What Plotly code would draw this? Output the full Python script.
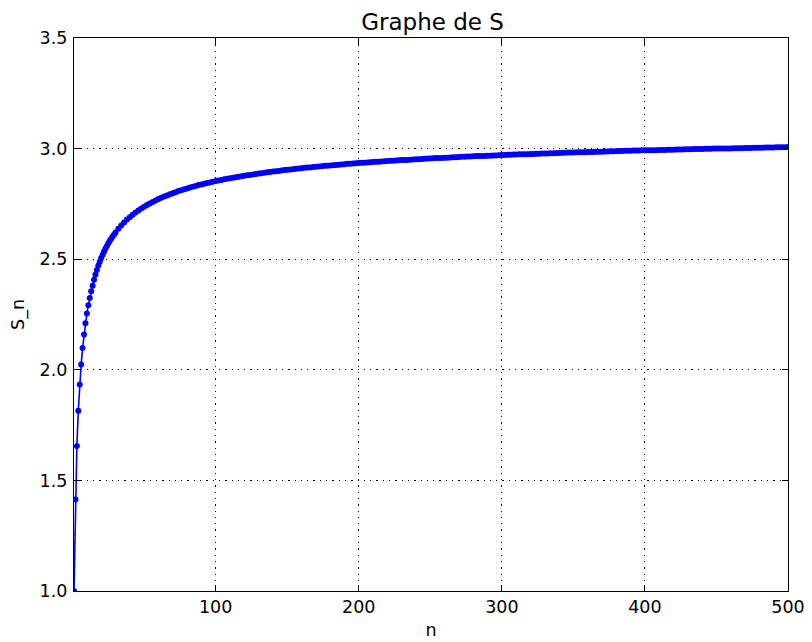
import plotly.graph_objects as go

# n values (sampled positions along the curve)
n_values = list(range(1, 31)) + list(range(32, 101, 2)) + list(range(102, 501, 2))

# S_n values
s_early = [1.000, 1.414, 1.655, 1.815, 1.934, 2.024, 2.099, 2.160, 2.211, 2.254,
           2.292, 2.325, 2.355, 2.380, 2.407, 2.430, 2.451, 2.471, 2.489, 2.505,
           2.520, 2.535, 2.548, 2.560, 2.572, 2.583, 2.593, 2.603, 2.612, 2.621]
s_mid = [2.638, 2.652, 2.666, 2.679, 2.690, 2.701, 2.711, 2.720, 2.729, 2.737,
         2.745, 2.752, 2.759, 2.765, 2.772, 2.778, 2.783, 2.788, 2.794, 2.798,
         2.803, 2.808, 2.812, 2.816, 2.820, 2.824, 2.828, 2.831, 2.835, 2.838,
         2.841, 2.844, 2.847, 2.850, 2.853]
s_late = [2.856, 2.858, 2.861, 2.864, 2.866, 2.868, 2.871, 2.873, 2.875, 2.877,
          2.879, 2.881, 2.883, 2.885, 2.887, 2.889, 2.891, 2.893, 2.894, 2.896,
          2.898, 2.899, 2.901, 2.903, 2.904, 2.906, 2.907, 2.909, 2.910, 2.911,
          2.913, 2.914, 2.915, 2.917, 2.918, 2.919, 2.920, 2.922, 2.923, 2.924,
          2.925, 2.926, 2.927, 2.928, 2.929, 2.931, 2.932, 2.933, 2.934, 2.935,
          2.936, 2.936, 2.937, 2.938, 2.939, 2.940, 2.941, 2.942, 2.943, 2.944,
          2.945, 2.945, 2.946, 2.947, 2.948, 2.949, 2.949, 2.950, 2.951, 2.952,
          2.952, 2.953, 2.954, 2.955, 2.955, 2.956, 2.957, 2.957, 2.958, 2.959,
          2.959, 2.960, 2.961, 2.961, 2.962, 2.963, 2.963, 2.964, 2.964, 2.965,
          2.966, 2.966, 2.967, 2.967, 2.968, 2.968, 2.969, 2.969, 2.970, 2.971,
          2.971, 2.972, 2.972, 2.973, 2.973, 2.974, 2.974, 2.975, 2.975, 2.976,
          2.976, 2.977, 2.977, 2.978, 2.978, 2.978, 2.979, 2.979, 2.980, 2.980,
          2.981, 2.981, 2.982, 2.982, 2.982, 2.983, 2.983, 2.984, 2.984, 2.985,
          2.985, 2.985, 2.986, 2.986, 2.986, 2.987, 2.987, 2.988, 2.988, 2.988,
          2.989, 2.989, 2.990, 2.990, 2.990, 2.991, 2.991, 2.991, 2.992, 2.992,
          2.992, 2.993, 2.993, 2.993, 2.994, 2.994, 2.994, 2.995, 2.995, 2.995,
          2.996, 2.996, 2.996, 2.997, 2.997, 2.997, 2.998, 2.998, 2.998, 2.998,
          2.999, 2.999, 2.999, 3.000, 3.000, 3.000, 3.000, 3.001, 3.001, 3.001,
          3.002, 3.002, 3.002, 3.002, 3.003, 3.003, 3.003, 3.004, 3.004, 3.004,
          3.004, 3.005, 3.005, 3.005, 3.005, 3.006, 3.006, 3.006, 3.006, 3.007]
s_values = s_early + s_mid + s_late

x_ticks = [100, 200, 300, 400, 500]
y_ticks = [1.0, 1.5, 2.0, 2.5, 3.0, 3.5]
y_tick_labels = ["1.0", "1.5", "2.0", "2.5", "3.0", "3.5"]

FONT = "DejaVu Sans"

fig = go.Figure()
fig.add_trace(go.Scatter(
    x=n_values, y=s_values, mode="lines+markers",
    line=dict(color="#0000ff", width=1.6),
    marker=dict(color="#0000ff", size=6, line=dict(width=0)),
    showlegend=False,
))

axis_common = dict(
    showline=True, linecolor="black", linewidth=1.2, mirror="ticks",
    ticks="inside", ticklen=6, tickwidth=1, tickcolor="black",
    showgrid=True, gridcolor="black", gridwidth=1, griddash="1.3px,5px",
    zeroline=False, automargin=False,
    tickfont=dict(family=FONT, size=17.5, color="black"),
)

fig.update_xaxes(range=[1, 500], tickvals=x_ticks, ticktext=[str(v) for v in x_ticks],
                 title=dict(text="n", font=dict(family=FONT, size=17.5, color="black"), standoff=7),
                 **axis_common)
fig.update_yaxes(range=[1.0, 3.5], tickvals=y_ticks, ticktext=y_tick_labels,
                 ticklabelstandoff=2,
                 title=dict(text="S_n", font=dict(family=FONT, size=17.5, color="black"), standoff=15),
                 **axis_common)

fig.update_layout(
    width=804, height=634,
    margin=dict(l=66, r=24, t=30, b=51),
    paper_bgcolor="white", plot_bgcolor="white",
    title=dict(text="Graphe de S", x=0.528, xanchor="center",
               yref="paper", y=1, yanchor="bottom", pad=dict(b=8),
               font=dict(family=FONT, size=23, color="black")),
    font=dict(family=FONT, color="black"),
)

fig.write_html("out.html")
